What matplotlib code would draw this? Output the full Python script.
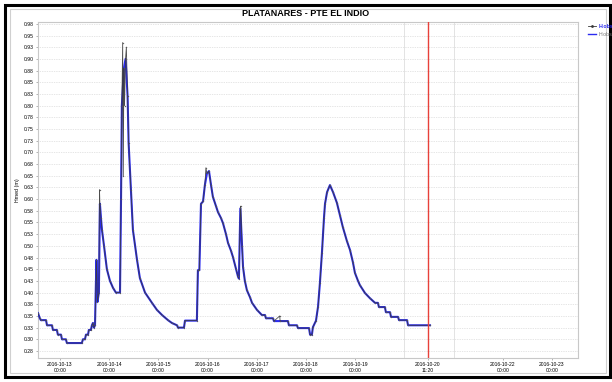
import matplotlib
matplotlib.use("Agg")
import matplotlib.pyplot as plt
import matplotlib.dates as mdates
from matplotlib.lines import Line2D
from matplotlib.patches import Rectangle
import pandas as pd

# ---- data: hours since 2016-10-13 00:00 and observed level (m) ----
hours = [-10.7, -9.8, -9.3, -6.8, -6.3, -3.9, -3.4, -1.5, -1.0, 0.5, 1.0, 2.9, 3.4,
         10.7, 11.2, 12.2, 12.7, 13.7, 14.1, 15.1, 15.6, 16.1, 16.6, 17.1, 17.8, 18.3,
         19.0, 19.5, 20.0, 20.5, 21.5, 22.9, 24.4, 25.9, 27.3, 29.3, 29.8, 30.2, 31.2,
         32.0, 33.0, 33.5, 34.6, 35.6, 37.6, 39.0, 41.5, 44.9, 47.3, 49.8, 52.7, 54.6,
         57.1, 57.6, 60.5, 61.0, 66.8, 67.3, 68.0, 68.8, 69.8, 70.7, 71.7, 72.7, 73.7,
         74.6, 76.1, 77.1, 78.5, 79.5, 81.0, 82.0, 83.4, 84.4, 85.9, 86.8, 87.3, 88.0,
         88.8, 89.3, 90.2, 91.2, 92.7, 93.7, 96.1, 98.5, 100.0, 100.5, 103.9, 104.4,
         111.2, 111.7, 115.6, 116.1, 121.5, 122.0, 122.9, 123.4, 124.9, 125.9, 126.8,
         127.8, 128.8, 129.3, 130.3, 131.7, 133.2, 135.1, 136.6, 138.0, 140.0, 141.5,
         142.9, 143.9, 145.4, 146.3, 148.8, 151.2, 153.7, 155.1, 155.6, 158.5, 159.0,
         161.0, 161.5, 164.9, 165.4, 169.3, 169.8, 180.5]
h_obs = [0.356, 0.345, 0.341, 0.341, 0.330, 0.330, 0.320, 0.320, 0.310, 0.310, 0.300, 0.300, 0.292,
         0.292, 0.300, 0.300, 0.310, 0.310, 0.320, 0.320, 0.330, 0.335, 0.325, 0.330, 0.470, 0.380,
         0.400, 0.590, 0.560, 0.534, 0.500, 0.450, 0.425, 0.410, 0.400, 0.400, 0.600, 0.800, 0.880,
         0.900, 0.820, 0.720, 0.620, 0.534, 0.470, 0.431, 0.400, 0.378, 0.363, 0.352, 0.341, 0.335,
         0.330, 0.325, 0.325, 0.340, 0.340, 0.448, 0.448, 0.590, 0.595, 0.630, 0.655, 0.660, 0.630,
         0.605, 0.585, 0.572, 0.560, 0.549, 0.525, 0.506, 0.490, 0.476, 0.450, 0.435, 0.430, 0.580,
         0.500, 0.455, 0.425, 0.405, 0.390, 0.378, 0.363, 0.352, 0.352, 0.345, 0.345, 0.339,
         0.339, 0.330, 0.330, 0.324, 0.324, 0.310, 0.310, 0.326, 0.340, 0.370, 0.420,
         0.485, 0.560, 0.590, 0.615, 0.630, 0.615, 0.592, 0.565, 0.540, 0.510, 0.491,
         0.465, 0.442, 0.425, 0.416, 0.399, 0.388, 0.378, 0.378, 0.369, 0.369, 0.358,
         0.358, 0.348, 0.348, 0.341, 0.341, 0.330, 0.330]
# extra points of the second (dark) series where it departs from H.obs
peak_hours = [19.3, 30.6, 30.9, 31.5, 32.4, 71.2, 88.2, 107.2, 107.4]
peak_vals = [0.620, 0.935, 0.650, 0.800, 0.925, 0.667, 0.585, 0.350, 0.339]

base = pd.Timestamp("2016-10-13 00:00")
t_blue = base + pd.to_timedelta(hours, unit="h")
pairs = sorted(list(zip(hours, h_obs)) + list(zip(peak_hours, peak_vals)))
t_dark = base + pd.to_timedelta([p[0] for p in pairs], unit="h")
v_dark = [p[1] for p in pairs]

title = "PLATANARES - PTE EL INDIO"
ylabel = "Hmed (m)"
ytick_vals = [0.275 + 0.025 * i for i in range(29)]
ytick_labels = ["0.28", "0.30", "0.33", "0.35", "0.38", "0.40", "0.43", "0.45", "0.48", "0.50",
                "0.53", "0.55", "0.58", "0.60", "0.63", "0.65", "0.68", "0.70", "0.73", "0.75",
                "0.78", "0.80", "0.83", "0.85", "0.88", "0.90", "0.93", "0.95", "0.98"]
xtick_times = ["2016-10-13 00:00", "2016-10-14 00:00", "2016-10-15 00:00", "2016-10-16 00:00",
               "2016-10-17 00:00", "2016-10-18 00:00", "2016-10-19 00:00", "2016-10-20 11:20",
               "2016-10-22 00:00", "2016-10-23 00:00"]
day_grid = pd.date_range("2016-10-13", "2016-10-23", freq="D")
now_time = "2016-10-20 11:20"

plt.rcParams["font.family"] = ["Liberation Sans", "DejaVu Sans"]

W, H = 612, 382
fig = plt.figure(figsize=(W / 100, H / 100), dpi=100)
fig.patch.set_facecolor("white")

ax = fig.add_axes([38 / W, 1 - 358 / H, (578 - 38) / W, (358 - 22) / H])

ax.plot(t_blue, h_obs, color="#2b2bf0", lw=1.5, zorder=3)
ax.plot(t_dark, v_dark, color="#3a3a3a", lw=0.6, marker="o", ms=1.0,
        markerfacecolor="#555555", markeredgewidth=0, zorder=4, alpha=0.9)
ax.axvline(pd.Timestamp(now_time), color="#e8413a", lw=1.0, zorder=5)

ax.set_xlim(base + pd.Timedelta(hours=-10.7), base + pd.Timedelta(hours=252.7))
ax.set_ylim(0.260, 0.979)

ax.set_yticks(ytick_vals)
ax.set_yticklabels(ytick_labels)
xt = pd.to_datetime(xtick_times)
ax.set_xticks(xt)
ax.set_xticklabels([t.strftime("%Y-%m-%d\n%H:%M") for t in xt])
ax.set_xticks(day_grid, minor=True)
ax.tick_params(axis="both", labelsize=3.6, length=1.5, width=0.4, color="#777777", pad=1.5)
ax.tick_params(axis="x", which="minor", length=0)
ax.grid(axis="y", which="major", color="#cccccc", ls=(0, (1, 1.5)), lw=0.5)
ax.grid(axis="x", which="minor", color="#d8d8d8", ls="-", lw=0.5)
ax.grid(axis="x", which="major", visible=False)
for s in ax.spines.values():
    s.set_color("#c8c8c8")
    s.set_linewidth(0.8)

ax.set_ylabel(ylabel, fontsize=3.8, labelpad=3)
fig.text(0.5, 1 - 13 / H, title, ha="center", va="center", fontsize=6.5, fontweight="bold")

handles = [Line2D([], [], color="#3a3a3a", lw=0.6, marker="o", ms=1.0),
           Line2D([], [], color="#2b2bf0", lw=1.0)]
leg = fig.legend(handles, ["H.obs", "H.obs"], loc="upper left",
                 bbox_to_anchor=(586 / W, 1 - 22 / H), frameon=False, fontsize=3.8,
                 handlelength=1.5, handletextpad=0.4, labelspacing=0.5, borderaxespad=0)
leg.get_texts()[0].set_color("#2b2bf0")
leg.get_texts()[0].set_fontweight("bold")
leg.get_texts()[1].set_color("#777777")

# screenshot frame
fig.add_artist(Rectangle((5 / W, 5 / H), 605 / W, 372 / H, transform=fig.transFigure,
                         fill=False, edgecolor="black", lw=2.2))
fig.add_artist(Rectangle((10 / W, 9 / H), 596 / W, 364 / H, transform=fig.transFigure,
                         fill=False, edgecolor="#d0d0d0", lw=0.8))

fig.savefig("out.png", dpi=100)
